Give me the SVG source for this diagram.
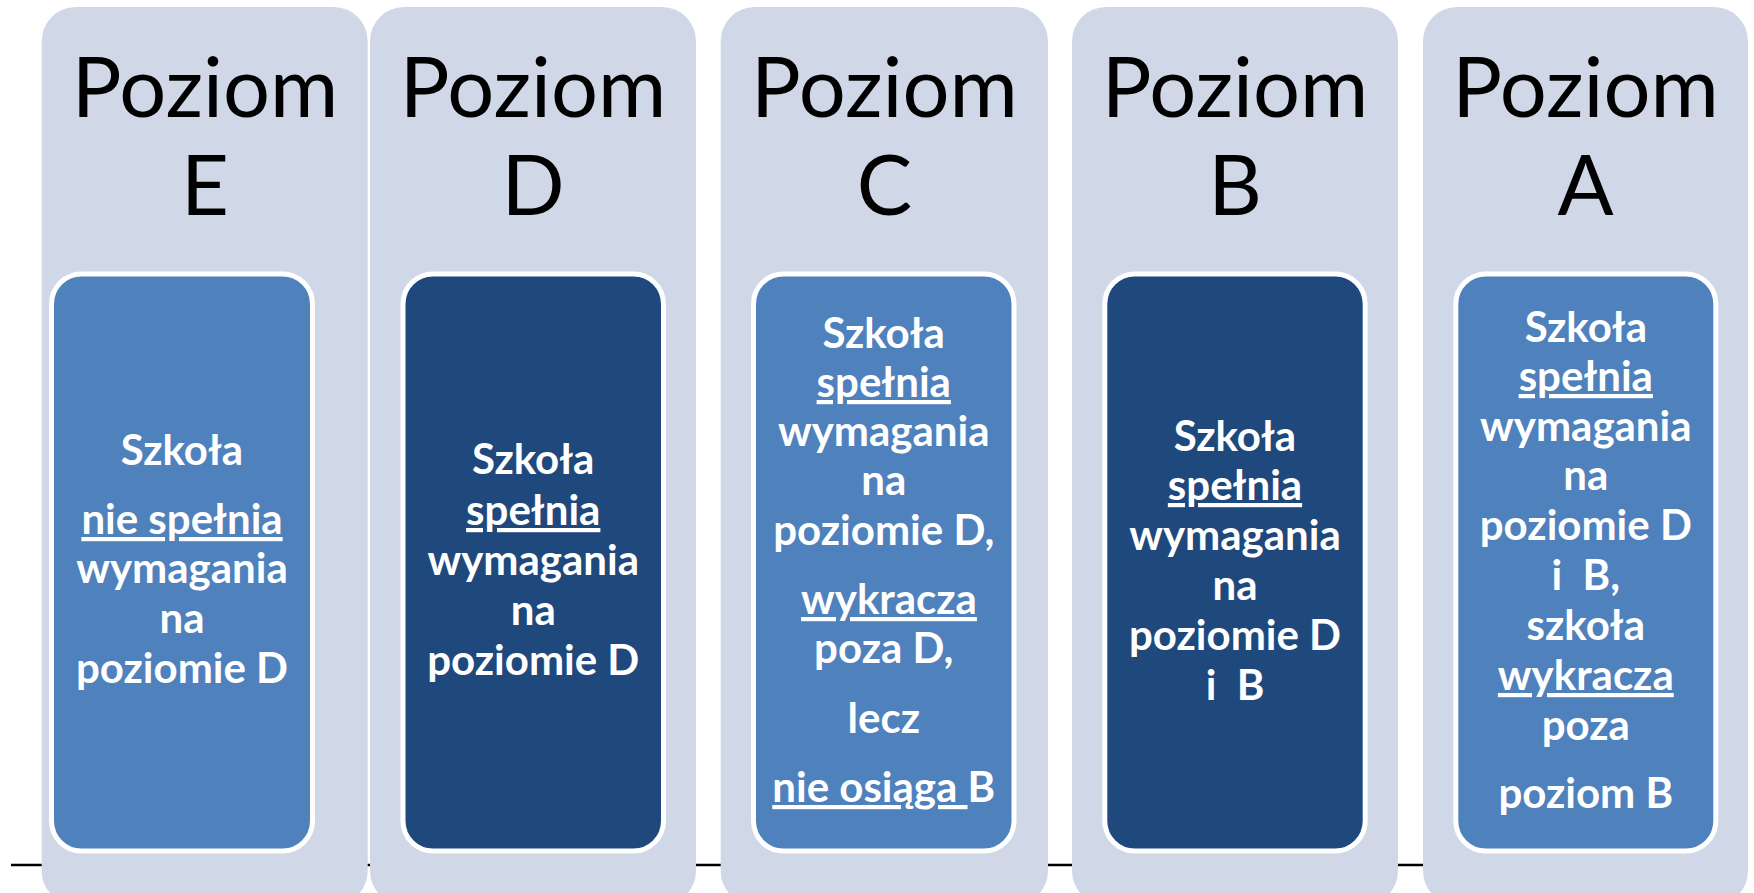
<svg xmlns="http://www.w3.org/2000/svg" width="1754" height="893" viewBox="0 0 1754 893">
<style>
.panel{fill:#D0D8E8;}
.box{stroke:#FFFFFF;stroke-width:5;}
.light{fill:#4F81BD;}
.dark{fill:#1F497D;}
.title{font-family:Lato,"Open Sans","Liberation Sans",sans-serif;font-size:83px;fill:#000000;text-anchor:middle;}
.body{font-family:Lato,"Open Sans","Liberation Sans",sans-serif;font-weight:bold;font-size:42px;fill:#FFFFFF;text-anchor:middle;}
.u{text-decoration:underline;text-decoration-thickness:3px;}
</style>
<rect width="1754" height="893" fill="#FFFFFF"/>
<g id="connectors">
<line x1="11" y1="865" x2="1440" y2="865" stroke="#000000" stroke-width="2.5"/>
</g>
<g id="level-E">
<rect class="panel" x="41.7" y="7" width="326" height="898" rx="34"/>
<text class="title" x="205" y="116.7">Poziom</text>
<text class="title" x="205" y="215">E</text>
<rect class="box light" x="51.5" y="274" width="261" height="577" rx="30"/>
<text class="body" x="182" y="465">Szkoła</text>
<text class="body" x="182" y="534"><tspan class="u">nie spełnia</tspan></text>
<text class="body" x="182" y="583">wymagania</text>
<text class="body" x="182" y="633">na</text>
<text class="body" x="182" y="683">poziomie D</text>
</g>
<g id="level-D">
<rect class="panel" x="370" y="7" width="326" height="898" rx="34"/>
<text class="title" x="533" y="116.7">Poziom</text>
<text class="title" x="533" y="215">D</text>
<rect class="box dark" x="403" y="274" width="260.5" height="577" rx="30"/>
<text class="body" x="533.25" y="474">Szkoła</text>
<text class="body" x="533.25" y="525"><tspan class="u">spełnia</tspan></text>
<text class="body" x="533.25" y="575">wymagania</text>
<text class="body" x="533.25" y="625">na</text>
<text class="body" x="533.25" y="675">poziomie D</text>
</g>
<g id="level-C">
<rect class="panel" x="720.7" y="7" width="327.3" height="898" rx="34"/>
<text class="title" x="884.4" y="116.7">Poziom</text>
<text class="title" x="884.4" y="215">C</text>
<rect class="box light" x="753.5" y="274" width="260.5" height="577" rx="30"/>
<text class="body" x="883.75" y="348">Szkoła</text>
<text class="body" x="883.75" y="397"><tspan class="u">spełnia</tspan></text>
<text class="body" x="883.75" y="446">wymagania</text>
<text class="body" x="883.75" y="495">na</text>
<text class="body" x="883.75" y="545">poziomie D,</text>
<text class="body" x="889" y="614"><tspan class="u">wykracza</tspan></text>
<text class="body" x="883.75" y="663">poza D,</text>
<text class="body" x="883.75" y="733">lecz</text>
<text class="body" x="883.75" y="802" xml:space="preserve"><tspan class="u">nie osiąga </tspan>B</text>
</g>
<g id="level-B">
<rect class="panel" x="1072" y="7" width="326" height="898" rx="34"/>
<text class="title" x="1235" y="116.7">Poziom</text>
<text class="title" x="1235" y="215">B</text>
<rect class="box dark" x="1104.8" y="274" width="260.4" height="577" rx="30"/>
<text class="body" x="1235" y="451">Szkoła</text>
<text class="body" x="1235" y="500"><tspan class="u">spełnia</tspan></text>
<text class="body" x="1235" y="550">wymagania</text>
<text class="body" x="1235" y="600">na</text>
<text class="body" x="1235" y="650">poziomie D</text>
<text class="body" x="1235" y="700" xml:space="preserve">i  B</text>
</g>
<g id="level-A">
<rect class="panel" x="1423" y="7" width="325" height="898" rx="34"/>
<text class="title" x="1585.5" y="116.7">Poziom</text>
<text class="title" x="1585.5" y="215">A</text>
<rect class="box light" x="1455.8" y="274" width="260" height="577" rx="30"/>
<text class="body" x="1585.8" y="342">Szkoła</text>
<text class="body" x="1585.8" y="391"><tspan class="u">spełnia</tspan></text>
<text class="body" x="1585.8" y="441">wymagania</text>
<text class="body" x="1585.8" y="490">na</text>
<text class="body" x="1585.8" y="540">poziomie D</text>
<text class="body" x="1585.8" y="590" xml:space="preserve">i  B,</text>
<text class="body" x="1585.8" y="640">szkoła</text>
<text class="body" x="1585.8" y="690"><tspan class="u">wykracza</tspan></text>
<text class="body" x="1585.8" y="740">poza</text>
<text class="body" x="1585.8" y="808">poziom B</text>
</g>
</svg>
